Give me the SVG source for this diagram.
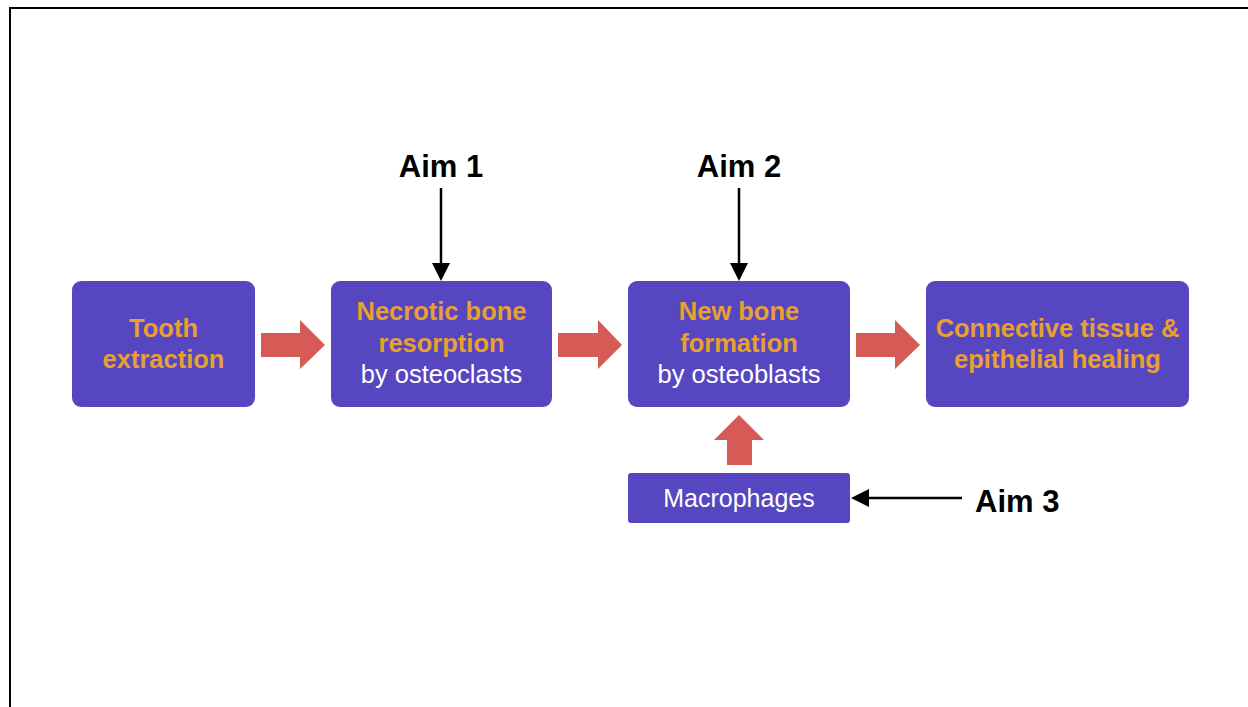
<svg xmlns="http://www.w3.org/2000/svg" width="1248" height="707" viewBox="0 0 1248 707">
<defs>
<style>
.box{fill:#5647C0;}
.t{font-family:"Liberation Sans",Arial,sans-serif;text-anchor:middle;font-size:25.5px;}
.o{fill:#E8A030;font-weight:bold;}
.w{fill:#FFFFFF;}
.aim{font-family:"Liberation Sans",Arial,sans-serif;font-weight:bold;font-size:31px;fill:#000;}
.red{fill:#D65A55;}
.ln{stroke:#000;stroke-width:2.5;fill:none;}
</style>
</defs>
<rect x="0" y="0" width="1248" height="707" fill="#fff"/>
<path d="M10,707 L10,8 L1248,8" fill="none" stroke="#000" stroke-width="2"/>
<g id="n1">
<rect class="box" x="72" y="281" width="183" height="126" rx="9"/>
<text class="t o" x="163.5" y="337">Tooth</text>
<text class="t o" x="163.5" y="368">extraction</text>
</g>
<g id="n2">
<rect class="box" x="331" y="281" width="221" height="126" rx="9"/>
<text class="t o" x="441.5" y="320">Necrotic bone</text>
<text class="t o" x="441.5" y="352">resorption</text>
<text class="t w" x="441.5" y="383">by osteoclasts</text>
</g>
<g id="n3">
<rect class="box" x="628" y="281" width="222" height="126" rx="9"/>
<text class="t o" x="739" y="320">New bone</text>
<text class="t o" x="739" y="352">formation</text>
<text class="t w" x="739" y="383">by osteoblasts</text>
</g>
<g id="n4">
<rect class="box" x="926" y="281" width="263" height="126" rx="9"/>
<text class="t o" x="1057.5" y="337">Connective tissue &amp;</text>
<text class="t o" x="1057.5" y="368">epithelial healing</text>
</g>
<g id="n5">
<rect class="box" x="628" y="473" width="222" height="50" rx="3"/>
<text class="t w" x="739" y="507" style="font-size:25px">Macrophages</text>
</g>
<g id="aim1"><text class="aim" x="441" y="177" text-anchor="middle">Aim 1</text></g>
<g id="aim2"><text class="aim" x="739" y="177" text-anchor="middle">Aim 2</text></g>
<g id="aim3"><text class="aim" x="975" y="512">Aim 3</text></g>
<g id="connectors">
<polygon class="red" points="261,333 300,333 300,320 325,345 300,369 300,357 261,357"/>
<polygon class="red" points="558,333 598,333 598,320 622,345 598,369 598,357 558,357"/>
<polygon class="red" points="856,333 895,333 895,320 920,345 895,369 895,357 856,357"/>
<polygon class="red" points="727,465 727,440 714,440 739,415 764,440 752,440 752,465"/>
<path class="ln" d="M441,188 L441,266"/>
<path d="M432,263 L441,281 L450,263 z" fill="#000"/>
<path class="ln" d="M739,188 L739,266"/>
<path d="M730,263 L739,281 L748,263 z" fill="#000"/>
<path class="ln" d="M962,498 L866,498"/>
<path d="M869,489 L851,498 L869,507 z" fill="#000"/>
</g>
</svg>
